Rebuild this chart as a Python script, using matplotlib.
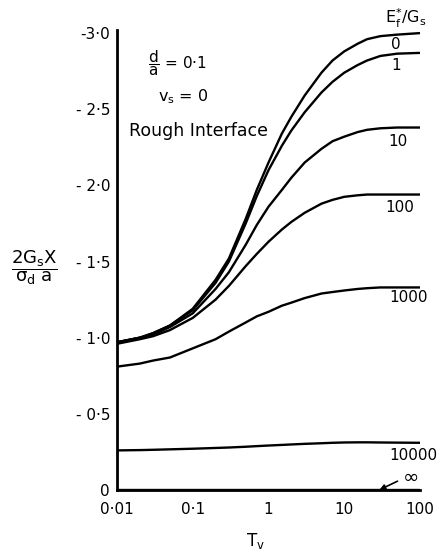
import matplotlib
matplotlib.use("Agg")
import matplotlib.pyplot as plt
from matplotlib.patches import FancyArrowPatch

W, H = 443, 556
T = [0.01, 0.02, 0.03, 0.05, 0.1, 0.2, 0.3, 0.5, 0.7, 1, 1.5, 2, 3, 5, 7, 10, 15, 20, 30, 50, 100]
ratio_labels = ["0", "1", "10", "100", "1000", "10000", "∞"]
curve_0 = [0.97, 1.00, 1.03, 1.08, 1.19, 1.38, 1.52, 1.78, 1.97, 2.15, 2.34, 2.45, 2.59, 2.74, 2.82, 2.88, 2.93, 2.96, 2.98, 2.99, 3.00]
curve_1 = [0.97, 1.00, 1.03, 1.08, 1.18, 1.36, 1.50, 1.75, 1.93, 2.10, 2.26, 2.36, 2.48, 2.61, 2.68, 2.74, 2.79, 2.82, 2.85, 2.865, 2.87]
curve_10 = [0.97, 1.00, 1.02, 1.07, 1.16, 1.32, 1.43, 1.61, 1.74, 1.86, 1.97, 2.05, 2.15, 2.24, 2.29, 2.32, 2.35, 2.365, 2.375, 2.38, 2.38]
curve_100 = [0.96, 0.99, 1.01, 1.05, 1.13, 1.25, 1.34, 1.47, 1.55, 1.63, 1.71, 1.76, 1.82, 1.88, 1.905, 1.925, 1.935, 1.94, 1.94, 1.94, 1.94]
curve_1000 = [0.81, 0.83, 0.85, 0.87, 0.93, 0.99, 1.04, 1.10, 1.14, 1.17, 1.21, 1.23, 1.26, 1.29, 1.30, 1.31, 1.32, 1.325, 1.33, 1.33, 1.33]
curve_10000 = [0.26, 0.262, 0.264, 0.267, 0.271, 0.276, 0.279, 0.284, 0.288, 0.292, 0.296, 0.299, 0.303, 0.307, 0.31, 0.312, 0.313, 0.313, 0.312, 0.311, 0.31]
curve_inf = [0.0] * len(T)
curves = [curve_0, curve_1, curve_10, curve_100, curve_1000, curve_10000, curve_inf]

x_ticks = [0.01, 0.1, 1, 10, 100]
x_ticklabels = ["0·01", "0·1", "1", "10", "100"]
y_ticks = [0, 0.5, 1.0, 1.5, 2.0, 2.5, 3.0]
y_ticklabels = ["0", "- 0·5", "- 1·0", "- 1·5", "- 2·0", "- 2·5", "-3·0"]

fig = plt.figure(figsize=(W / 100, H / 100), dpi=100)
left, right, bottom, top = 117, 420, 490, 30
ax = fig.add_axes([left / W, 1 - bottom / H, (right - left) / W, (bottom - top) / H])
ax.set_xscale("log")
ax.set_xlim(0.01, 100)
ax.set_ylim(0, (bottom - top) / 152.3)

for c in curves:
    ax.plot(T, c, color="black", lw=1.7, solid_capstyle="butt", solid_joinstyle="round", clip_on=False)

for s in ["top", "right"]:
    ax.spines[s].set_visible(False)
for s in ["left", "bottom"]:
    ax.spines[s].set_linewidth(2.0)

ax.set_xticks(x_ticks)
ax.set_xticklabels(x_ticklabels, fontsize=11)
ax.set_yticks(y_ticks)
ax.set_yticklabels(y_ticklabels, fontsize=11)
ax.minorticks_off()
ax.tick_params(axis="y", length=0, pad=5)
ax.tick_params(axis="x", length=0, pad=9)

def ftext(x, y, s, **kw):
    fig.text(x / W, 1 - y / H, s, **kw)

ftext(34, 268, r"$\dfrac{\mathrm{2G_{s}X}}{\mathrm{\sigma_{d}\ a}}$", fontsize=13, ha="center", va="center")
ftext(255, 541, r"$\mathrm{T_v}$", fontsize=12, ha="center", va="center")

ftext(148, 63, r"$\dfrac{\mathrm{d}}{\mathrm{a}}$ = 0·1", fontsize=11, ha="left", va="center")
ftext(158, 97, r"$\mathrm{v_s}$ = 0", fontsize=11.5, ha="left", va="center")
ftext(129, 131, "Rough Interface", fontsize=12.5, ha="left", va="center")
ftext(406, 18, r"$\mathrm{E_f^{*}/G_s}$", fontsize=11.5, ha="center", va="center")

label_pos = [(396, 45), (396, 66), (398, 142), (400, 208), (409, 297), (413, 455), (411, 477)]
for lab, (x, y) in zip(ratio_labels, label_pos):
    ftext(x, y, lab, fontsize=11 if lab != "∞" else 14, ha="center", va="center")

fig.add_artist(FancyArrowPatch(
    (400 / W, 1 - 480 / H), (377 / W, 1 - 491 / H), transform=fig.transFigure,
    arrowstyle="-|>", mutation_scale=8, lw=1.2, color="black"))

fig.savefig("out.png", dpi=100)
